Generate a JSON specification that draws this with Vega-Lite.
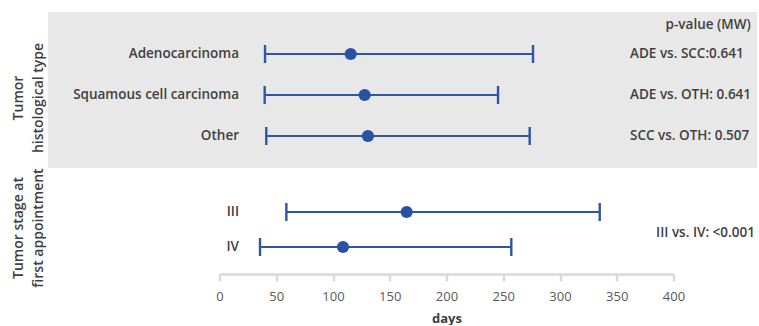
{
  "$schema": "https://vega.github.io/schema/vega-lite/v6.json",
  "padding": {"left": 11.5, "top": 12, "right": 0, "bottom": 0},
  "spacing": 0,
  "bounds": "flush",
  "config": {"view": {"stroke": null}, "font": "Open Sans"},
  "datasets": {
    "hist": [
      {"category": "Adenocarcinoma", "low": 40.1, "median": 115.6, "high": 276.2},
      {"category": "Squamous cell carcinoma", "low": 39.8, "median": 127.9, "high": 245.4},
      {"category": "Other", "low": 41.2, "median": 130.8, "high": 273.3}
    ],
    "histp": [
      {"category": "Adenocarcinoma", "label": "ADE vs. SCC:0.641"},
      {"category": "Squamous cell carcinoma", "label": "ADE vs. OTH: 0.641"},
      {"category": "Other", "label": "SCC vs. OTH: 0.507"}
    ],
    "stage": [
      {"category": "III", "low": 58.9, "median": 164.9, "high": 335.0},
      {"category": "IV", "low": 35.7, "median": 108.8, "high": 257.1}
    ]
  },
  "resolve": {"scale": {"y": "independent"}},
  "vconcat": [
    {
      "width": 454,
      "height": 156,
      "layer": [
        {
          "data": {"values": [{}]},
          "mark": {"type": "rect", "color": "#e8e8e8"},
          "encoding": {
            "x": {"datum": -151.1, "type": "quantitative", "scale": {"domain": [0, 400], "nice": false}, "axis": null},
            "x2": {"datum": 473.6}
          }
        },
        {
          "data": {"name": "hist"},
          "mark": {"type": "rule", "color": "#2F55A5", "strokeWidth": 2.2},
          "encoding": {
            "x": {"field": "low", "type": "quantitative", "scale": {"domain": [0, 400], "nice": false}, "axis": null},
            "x2": {"field": "high"},
            "y": {"field": "category", "type": "nominal", "sort": null, "scale": {"type": "point", "domain": ["Adenocarcinoma", "Squamous cell carcinoma", "Other"], "range": [42, 124], "padding": 0}, "axis": null}
          }
        },
        {
          "data": {"name": "hist"},
          "mark": {"type": "tick", "color": "#2F55A5", "thickness": 2.4, "size": 18, "opacity": 1},
          "encoding": {
            "x": {"field": "low", "type": "quantitative"},
            "y": {"field": "category", "type": "nominal"}
          }
        },
        {
          "data": {"name": "hist"},
          "mark": {"type": "tick", "color": "#2F55A5", "thickness": 2.4, "size": 18, "opacity": 1},
          "encoding": {
            "x": {"field": "high", "type": "quantitative"},
            "y": {"field": "category", "type": "nominal"}
          }
        },
        {
          "data": {"name": "hist"},
          "mark": {"type": "point", "shape": "circle", "filled": true, "color": "#2A52A3", "size": 150, "opacity": 1},
          "encoding": {
            "x": {"field": "median", "type": "quantitative"},
            "y": {"field": "category", "type": "nominal"}
          }
        },
        {
          "data": {"name": "hist"},
          "mark": {"type": "text", "align": "right", "baseline": "middle", "fontSize": 13.5, "fontWeight": 600, "color": "#404040"},
          "encoding": {
            "x": {"datum": 17.2, "type": "quantitative"},
            "y": {"field": "category", "type": "nominal"},
            "text": {"field": "category"}
          }
        },
        {
          "data": {"name": "histp"},
          "mark": {"type": "text", "align": "left", "baseline": "middle", "fontSize": 13.5, "fontWeight": 600, "color": "#404040"},
          "encoding": {
            "x": {"datum": 361.7, "type": "quantitative"},
            "y": {"field": "category", "type": "nominal"},
            "text": {"field": "label"}
          }
        },
        {
          "data": {"values": [{}]},
          "mark": {"type": "text", "text": "p-value (MW)", "align": "right", "baseline": "middle", "fontSize": 13.5, "fontWeight": 600, "color": "#404040", "dy": -29},
          "encoding": {
            "x": {"datum": 468.1, "type": "quantitative"},
            "y": {"datum": "Adenocarcinoma", "type": "nominal"}
          }
        },
        {
          "data": {"values": [{}]},
          "mark": {"type": "text", "text": ["Tumor", "histological type"], "angle": 270, "align": "center", "baseline": "middle", "lineHeight": 20, "fontSize": 14, "fontWeight": 600, "color": "#404040", "dx": -3},
          "encoding": {
            "x": {"datum": -176.7, "type": "quantitative"},
            "y": {"datum": "Squamous cell carcinoma", "type": "nominal"}
          }
        }
      ]
    },
    {
      "width": 454,
      "height": 106,
      "layer": [
        {
          "data": {"name": "stage"},
          "mark": {"type": "rule", "color": "#2F55A5", "strokeWidth": 2.2},
          "encoding": {
            "x": {
              "field": "low", "type": "quantitative",
              "scale": {"domain": [0, 400], "nice": false},
              "axis": {
                "values": [0, 50, 100, 150, 200, 250, 300, 350, 400],
                "grid": false,
                "labelFlush": false,
                "labelOverlap": false,
                "domainColor": "#d9d9d9", "domainWidth": 2.5,
                "tickColor": "#d9d9d9", "tickWidth": 2.5, "tickSize": 7,
                "labelColor": "#595959", "labelFontSize": 13, "labelPadding": 9,
                "title": "days", "titleFontSize": 13, "titleFontWeight": "bold", "titleColor": "#404040", "titlePadding": 9
              }
            },
            "x2": {"field": "high"},
            "y": {"field": "category", "type": "nominal", "sort": null, "scale": {"type": "point", "domain": ["III", "IV"], "range": [44, 79], "padding": 0}, "axis": null}
          }
        },
        {
          "data": {"name": "stage"},
          "mark": {"type": "tick", "color": "#2F55A5", "thickness": 2.4, "size": 18, "opacity": 1},
          "encoding": {
            "x": {"field": "low", "type": "quantitative"},
            "y": {"field": "category", "type": "nominal"}
          }
        },
        {
          "data": {"name": "stage"},
          "mark": {"type": "tick", "color": "#2F55A5", "thickness": 2.4, "size": 18, "opacity": 1},
          "encoding": {
            "x": {"field": "high", "type": "quantitative"},
            "y": {"field": "category", "type": "nominal"}
          }
        },
        {
          "data": {"name": "stage"},
          "mark": {"type": "point", "shape": "circle", "filled": true, "color": "#2A52A3", "size": 150, "opacity": 1},
          "encoding": {
            "x": {"field": "median", "type": "quantitative"},
            "y": {"field": "category", "type": "nominal"}
          }
        },
        {
          "data": {"name": "stage"},
          "mark": {"type": "text", "align": "right", "baseline": "middle", "fontSize": 13.5, "fontWeight": 600, "color": "#404040"},
          "encoding": {
            "x": {"datum": 17.2, "type": "quantitative"},
            "y": {"field": "category", "type": "nominal"},
            "text": {"field": "category"}
          }
        },
        {
          "data": {"values": [{}]},
          "mark": {"type": "text", "text": "III vs. IV: <0.001", "align": "left", "baseline": "middle", "fontSize": 13.5, "fontWeight": 600, "color": "#404040", "dy": 21},
          "encoding": {
            "x": {"datum": 384.6, "type": "quantitative"},
            "y": {"datum": "III", "type": "nominal"}
          }
        },
        {
          "data": {"values": [{}]},
          "mark": {"type": "text", "text": ["Tumor stage at", "first appointment"], "angle": 270, "align": "center", "baseline": "middle", "lineHeight": 20, "fontSize": 14, "fontWeight": 600, "color": "#404040", "dx": -16},
          "encoding": {
            "x": {"datum": -176.7, "type": "quantitative"},
            "y": {"datum": "III", "type": "nominal"}
          }
        }
      ]
    }
  ]
}
